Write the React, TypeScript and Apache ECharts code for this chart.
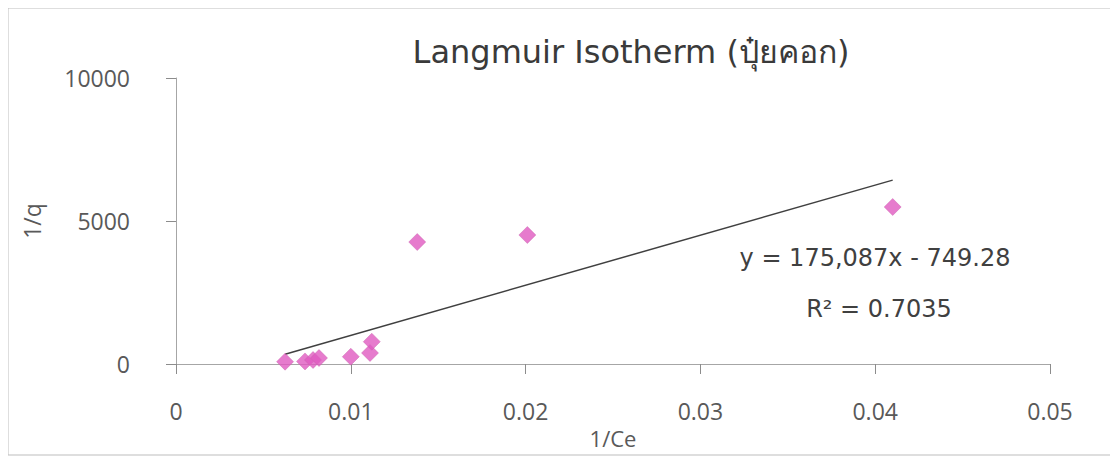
import React, { useEffect, useRef } from "react";
import * as echarts from "echarts";

const titleText = "Langmuir Isotherm (ปุ๋ยคอก)";
const xName = "1/Ce";
const yName = "1/q";
const xValues = [0.00624, 0.00738, 0.00784, 0.00818, 0.0100, 0.0111, 0.0112, 0.0138, 0.0201, 0.0410];
const yValues = [80, 90, 140, 210, 255, 385, 780, 4265, 4510, 5490];
const slope = 175087;
const intercept = -749.28;
const equationText = "y = 175,087x - 749.28";
const r2Text = "R² = 0.7035";

export default function App() {
  const ref = useRef<HTMLDivElement>(null);
  useEffect(() => {
    if (!ref.current) return;
    const chart = echarts.init(ref.current, null, { renderer: "svg" });
    const points = xValues.map((x, i) => [x, yValues[i]]);
    const xMin = Math.min(...xValues);
    const xMax = Math.max(...xValues);
    const trend = [
      [xMin, slope * xMin + intercept],
      [xMax, slope * xMax + intercept],
    ];
    const labelStyle = { color: "#595959", fontFamily: "Open Sans", fontSize: 23 };
    chart.setOption({
      animation: false,
      backgroundColor: "#ffffff",
      grid: { left: 168, right: 68, top: 70, bottom: 95 },
      graphic: [
        {
          type: "rect",
          shape: { x: 0, y: 0, width: 1107, height: 447 },
          style: { fill: "none", stroke: "#bdbdbd", lineWidth: 1 },
          silent: true,
        },
        {
          type: "text",
          x: 623,
          y: 44,
          style: {
            text: titleText,
            fill: "#3a3a3a",
            font: '32px "DejaVu Sans", sans-serif',
            textAlign: "center",
            textVerticalAlign: "middle",
          },
        },
        {
          type: "text",
          x: 867,
          y: 250,
          style: {
            text: equationText,
            fill: "#404040",
            font: '24px "DejaVu Sans", sans-serif',
            textAlign: "center",
            textVerticalAlign: "middle",
          },
        },
        {
          type: "text",
          x: 871,
          y: 301,
          style: {
            text: r2Text,
            fill: "#404040",
            font: '24px "DejaVu Sans", sans-serif',
            textAlign: "center",
            textVerticalAlign: "middle",
          },
        },
      ],
      xAxis: {
        type: "value",
        min: 0,
        max: 0.05,
        interval: 0.01,
        name: xName,
        nameLocation: "middle",
        nameGap: 53,
        nameTextStyle: { ...labelStyle, fontSize: 22 },
        axisLine: { show: true, onZero: false, lineStyle: { color: "#a6a6a6", width: 1 } },
        axisTick: { show: true, inside: false, length: 10, lineStyle: { color: "#8c8c8c" } },
        axisLabel: { ...labelStyle, margin: 35 },
        splitLine: { show: false },
      },
      yAxis: {
        type: "value",
        min: 0,
        max: 10000,
        interval: 5000,
        name: yName,
        nameLocation: "middle",
        nameGap: 133,
        nameTextStyle: { ...labelStyle, fontSize: 23 },
        axisLine: { show: true, lineStyle: { color: "#a6a6a6", width: 1 } },
        axisTick: { show: true, inside: false, length: 10, lineStyle: { color: "#8c8c8c" } },
        axisLabel: { ...labelStyle, margin: 46, formatter: (v: number) => String(v) },
        splitLine: { show: false },
      },
      series: [
        {
          type: "line",
          data: trend,
          symbol: "none",
          lineStyle: { color: "#404040", width: 1.5 },
          silent: true,
          z: 2,
        },
        {
          type: "scatter",
          data: points,
          symbol: "diamond",
          symbolSize: 17,
          itemStyle: { color: "#e05ac0", borderColor: "#c55aa8", borderWidth: 0.5 },
          z: 3,
        },
      ],
    });
    return () => chart.dispose();
  }, []);
  return <div ref={ref} style={{ width: 1110, height: 451 }} />;
}
